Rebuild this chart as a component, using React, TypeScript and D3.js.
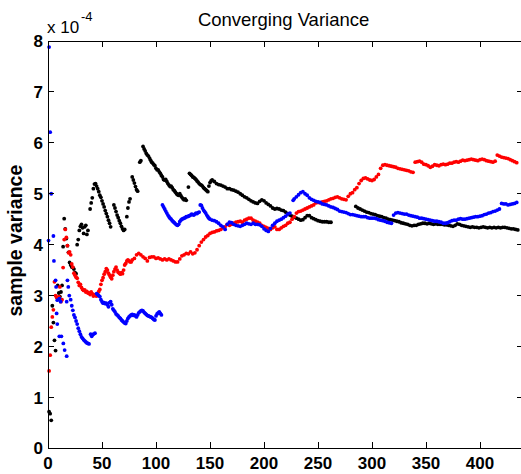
import React from "react";
import * as d3 from "d3";

// ---------- data (values in units of 1e-4) ----------
const blackX = [1, 2, 3, 4, 5, 6, 7, 9, 10, 11, 12, 13, 14, 15, 16, 17, 18, 19, 20, 21, 22, 23, 24, 25, 26,
  27, 28, 29, 30, 31, 32, 33, 34, 35, 36, 37,
  39, 40, 41, 42, 43, 44, 45, 46, 47, 48, 49, 50, 51, 52, 53, 54, 55, 56, 57, 58,
  61, 62, 63, 64, 65, 66, 67, 68, 69, 70, 71,
  73, 74, 75, 76, 78, 79, 80, 81, 82, 83, 85, 86,
  88, 89, 90, 91, 92, 93, 94, 95, 96, 97, 98, 99, 100, 101, 102, 103, 104, 105, 106, 107, 108, 109, 110,
  111, 112, 113, 114, 115, 116, 117, 118, 119, 120, 121, 122, 123, 124, 125, 126, 127, 128, 130,
  131, 132, 133, 134, 135, 136, 137, 138, 139, 140, 141, 142, 143, 144, 145, 146, 147, 148, 149, 150, 151, 152,
  154, 156, 158, 160, 162, 164, 166, 168, 170, 172, 174, 176, 178, 180, 182, 184, 186, 188, 190, 192, 194,
  196, 198, 200, 202, 204, 206, 208, 210, 212, 214, 216, 218, 220, 222, 224, 226, 228, 230, 232, 234, 236,
  238, 240, 242, 244, 246, 248, 250, 252, 254, 256, 258, 260, 262,
  285, 287, 289, 291, 293, 295, 297, 299, 301, 303, 305, 307, 309, 311, 313, 315, 317, 319, 321, 323, 325,
  327, 329, 331, 333, 335, 337, 339, 341, 343, 345, 347, 349, 351, 353, 355, 357, 359, 361, 363, 365, 367,
  369, 371, 373, 375, 377, 379, 381, 383, 385, 387, 389, 391, 393, 395, 397, 399, 401, 403, 405, 407, 409,
  411, 413, 415, 417, 419, 421, 423, 425, 427, 429, 431, 433, 435];
const blackY = [0.72, 0.68, 0.55, 2.8, 2.47, 2.12, 1.92, 3.2, 3.05, 2.98, 3.07, 3.2, 3.96, 4.51, 4.31, 4.12, 3.98, 3.85, 3.65, 3.6, 3.56, 3.55, 3.52, 3.45, 3.43,
  4.0, 4.1, 4.28, 4.36, 4.4, 4.33, 4.22, 4.35, 4.38, 4.2, 4.28,
  4.7, 4.82, 4.92, 5.1, 5.19, 5.2, 5.15, 5.1, 5.04, 4.97, 4.93, 4.86, 4.8, 4.74, 4.67, 4.61, 4.55, 4.48, 4.42, 4.35,
  4.78, 4.72, 4.65, 4.58, 4.53, 4.47, 4.42, 4.36, 4.31, 4.28, 4.3,
  4.55, 4.72, 4.84, 4.9, 5.33, 5.27, 5.21, 5.14, 5.08, 5.05, 5.62, 5.65,
  5.93, 5.88, 5.84, 5.79, 5.76, 5.74, 5.7, 5.66, 5.62, 5.6, 5.57, 5.55, 5.5, 5.47, 5.47, 5.43, 5.4, 5.36, 5.33, 5.28, 5.27, 5.28, 5.24,
  5.2, 5.17, 5.14, 5.15, 5.12, 5.08, 5.06, 5.03, 5.0, 4.98, 4.97, 5.0, 4.96, 4.93, 4.9, 4.88, 4.9, 4.87, 5.13,
  5.4, 5.38, 5.36, 5.33, 5.32, 5.3, 5.28, 5.25, 5.23, 5.2, 5.18, 5.17, 5.15, 5.12, 5.1, 5.08, 5.06, 5.04, 5.15, 5.22, 5.25, 5.27,
  5.24, 5.2, 5.18, 5.17, 5.15, 5.13, 5.1, 5.1, 5.08, 5.07, 5.05, 5.03, 5.0, 4.97, 4.94, 4.92, 4.89, 4.86, 4.84, 4.82, 4.81,
  4.85, 4.88, 4.86, 4.82, 4.79, 4.76, 4.72, 4.7, 4.71, 4.7, 4.68, 4.67, 4.64, 4.61, 4.58, 4.56, 4.54, 4.52, 4.5, 4.48, 4.49,
  4.53, 4.57, 4.57, 4.53, 4.51, 4.49, 4.47, 4.46, 4.45, 4.45, 4.45, 4.44, 4.44,
  4.75, 4.72, 4.7, 4.68, 4.66, 4.64, 4.63, 4.61, 4.6, 4.59, 4.57, 4.56, 4.55, 4.53, 4.52, 4.5, 4.49, 4.48, 4.47, 4.46, 4.45,
  4.43, 4.42, 4.41, 4.4, 4.38, 4.37, 4.38, 4.38, 4.4, 4.41, 4.42, 4.42, 4.41, 4.42, 4.41, 4.4, 4.41, 4.4, 4.4, 4.4, 4.39,
  4.39, 4.38, 4.37, 4.36, 4.38, 4.41, 4.4, 4.38, 4.37, 4.36, 4.35, 4.34, 4.35, 4.34, 4.34, 4.33, 4.34, 4.35, 4.34, 4.33, 4.34,
  4.33, 4.34, 4.33, 4.34, 4.33, 4.34, 4.34, 4.33, 4.32, 4.31, 4.31, 4.3, 4.29];

const redX = [1, 2, 3, 4, 5, 6, 7, 8, 9, 10, 11, 12, 13, 14, 15, 16, 17, 18, 19, 20, 21, 22, 23, 24, 25, 26, 27, 28, 29, 30,
  31, 32, 33, 34, 35, 36, 37, 38, 39, 40, 41, 42, 43, 44, 45, 46, 47, 48, 49, 50, 51, 52, 53, 54, 55, 56, 57, 58, 59, 60,
  61, 62, 63, 64, 65, 66, 67, 68, 69, 70, 71, 72, 73, 74, 75, 76, 77, 78, 80, 82, 84, 86, 88, 90, 92, 94, 96, 98, 100,
  102, 104, 106, 108, 110, 112, 114, 116, 118, 120, 122, 124, 126, 128, 130, 132, 134, 136, 138, 140, 142, 144, 146, 148, 150,
  152, 154, 156, 158, 160, 162, 164, 166, 168, 170, 172, 174, 176, 178, 180, 182, 184, 186, 188, 190, 192, 194, 196, 198, 200,
  202, 204, 206, 208, 210, 212, 214, 216, 218, 220, 222, 224, 226, 228, 230, 232, 234, 236, 238, 240, 242, 244, 246, 248, 250,
  252, 254, 256, 258, 260, 262, 264, 266, 268, 270, 272, 274, 276, 278, 280, 282, 284, 286, 288, 290, 292, 294, 296, 298, 300,
  302, 304, 306, 308, 310, 312, 314, 316, 318, 320, 322, 324, 326, 328, 330, 332, 334, 336, 338, 340, 342, 344, 346, 348, 350,
  352, 354, 356, 358, 360, 362, 364, 366, 368, 370, 372, 374, 376, 378, 380, 382, 384, 386, 388, 390, 392, 394, 396, 398, 400,
  402, 404, 406, 408, 410, 412, 414, 416, 418, 420, 422, 424, 426, 428, 430, 432, 434];
const redY = [1.52, 1.83, 2.38, 2.58, 2.72, 3.27, 3.0, 2.96, 2.94, 2.98, 3.17, 2.88, 2.92, 3.55, 4.1, 4.3, 4.14, 3.98, 3.84, 3.86, 3.8, 3.62, 3.56, 3.44, 3.4, 3.36, 3.34, 3.26, 3.2, 3.22,
  3.16, 3.12, 3.1, 3.11, 3.07, 3.08, 3.05, 3.05, 3.02, 3.07, 3.04, 2.99, 3.02, 3.0, 2.99, 3.03, 3.08, 3.12, 3.22, 3.3, 3.35, 3.42, 3.47, 3.53, 3.5, 3.44, 3.4, 3.36, 3.33, 3.4,
  3.47, 3.52, 3.56, 3.5, 3.46, 3.44, 3.42, 3.45, 3.43, 3.5, 3.6, 3.63, 3.68, 3.7, 3.68, 3.66, 3.66, 3.7, 3.73, 3.8, 3.83, 3.8, 3.76, 3.73, 3.68, 3.75, 3.76, 3.76, 3.73,
  3.74, 3.72, 3.7, 3.72, 3.7, 3.72, 3.7, 3.68, 3.66, 3.66, 3.72, 3.78, 3.8, 3.83, 3.82, 3.86, 3.82, 3.84, 3.9, 3.98, 4.05, 4.1, 4.15, 4.18, 4.22,
  4.24, 4.25, 4.27, 4.28, 4.3, 4.33, 4.35, 4.4, 4.38, 4.4, 4.42, 4.44, 4.45, 4.46, 4.44, 4.48, 4.5, 4.52, 4.52, 4.48, 4.46, 4.44, 4.42, 4.38, 4.36,
  4.34, 4.32, 4.3, 4.33, 4.35, 4.3, 4.3, 4.33, 4.36, 4.38, 4.42, 4.44, 4.5, 4.55, 4.62, 4.65, 4.66, 4.68, 4.7, 4.72, 4.74, 4.76, 4.78, 4.82, 4.83,
  4.82, 4.84, 4.85, 4.86, 4.88, 4.9, 4.91, 4.93, 4.94, 4.92, 4.9, 4.89, 4.88, 4.95, 5.0, 5.02, 5.08, 5.12, 5.2, 5.26, 5.3, 5.31, 5.29, 5.27, 5.26,
  5.28, 5.33, 5.38, 5.5, 5.56, 5.57, 5.56, 5.55, 5.54, 5.53, 5.52, 5.5, 5.49, 5.48, 5.47, 5.46, 5.45, 5.43, 5.42, 5.62, 5.63, 5.64, 5.62, 5.58, 5.57,
  5.55, 5.52, 5.54, 5.57, 5.56, 5.55, 5.57, 5.58, 5.57, 5.58, 5.6, 5.6, 5.62, 5.63, 5.62, 5.64, 5.66, 5.65, 5.66, 5.67, 5.68, 5.67, 5.66, 5.65, 5.67,
  5.68, 5.67, 5.65, 5.64, 5.63, 5.62, 5.64, 5.76, 5.74, 5.72, 5.71, 5.7, 5.69, 5.67, 5.65, 5.63, 5.61];

const blueX = [1, 2, 3, 0.5, 5, 5.5, 7, 7.5, 8.6, 10.5, 11.7, 8, 8.6, 10.5, 12.4, 14.2, 15.4, 17.3, 17.3, 18, 18.8, 19.7,
  21, 22, 23, 24, 25, 26, 27, 28, 29, 30, 31, 32, 33, 34, 35, 36, 37, 38, 39.5, 40.5, 42, 43.5,
  45, 46, 47, 48, 49, 50, 51, 52, 53, 54, 55, 56, 57, 58, 59, 60, 61, 62, 63, 64, 65, 66, 67, 68, 69, 70,
  71, 72, 73, 74, 75, 76, 77, 78, 79, 80, 81, 82, 83, 84, 85, 86, 87, 88, 89, 90, 91, 92, 93, 94, 95, 96,
  97, 98, 99, 100, 101, 102, 103, 104, 105,
  106, 107, 108, 109, 110, 111, 112, 113, 114, 115, 116, 117, 118, 119, 120, 121, 122, 123, 124, 125, 126,
  127, 128, 129, 130, 131, 132, 133, 134, 135, 136, 137, 138, 139, 140, 141, 142, 143, 144, 145, 146, 147,
  148, 149, 150, 152, 154, 156, 158, 160, 162, 164, 166, 168, 170, 172, 174, 176, 178, 180, 182, 184, 186,
  188, 190, 192, 194, 196, 198, 200, 202, 204, 206, 208, 210, 212, 214, 216, 218, 220, 222, 224,
  227, 228, 230, 232, 234, 236, 238, 240, 242, 244, 246, 248, 250, 252, 254, 256, 258, 260, 262, 264, 266,
  268, 270, 272, 274, 276, 278, 280, 282, 284, 286, 288, 290, 292, 294, 296, 298, 300, 302, 304, 306, 308,
  310, 312, 314, 316, 318, 320, 322, 324, 326, 328, 330, 332, 334, 336, 338, 340, 342, 344, 346, 348, 350,
  352, 354, 356, 358, 360, 362, 364, 366, 368, 370, 372, 374, 376, 378, 380, 382, 384, 386, 388, 390, 392,
  394, 396, 398, 400, 402, 404, 406, 408, 410, 412, 414, 416, 418, 420, 422, 424, 426, 428, 430, 432, 434];
const blueY = [7.88, 6.21, 5.0, 4.08, 4.17, 3.68, 3.3, 3.17, 2.91, 2.94, 2.88, 2.65, 2.44, 2.2, 2.2, 2.06, 1.93, 1.81, 2.88, 3.3, 3.17, 3.0,
  2.92, 2.8, 2.71, 2.62, 2.57, 2.5, 2.44, 2.36, 2.3, 2.24, 2.19, 2.16, 2.13, 2.11, 2.09, 2.07, 2.06, 2.05, 2.24, 2.2, 2.24, 2.26,
  3.04, 3.02, 3.0, 2.98, 2.92, 2.88, 2.85, 2.86, 2.84, 2.85, 2.82, 2.78, 2.86, 2.88, 2.82, 2.74, 2.71, 2.68, 2.64, 2.62, 2.6, 2.57, 2.55, 2.52, 2.5, 2.48,
  2.46, 2.45, 2.5, 2.55, 2.58, 2.6, 2.62, 2.63, 2.61, 2.62, 2.6, 2.58, 2.62, 2.66, 2.68, 2.7, 2.71, 2.7, 2.67, 2.65, 2.63, 2.61, 2.6, 2.59, 2.58, 2.57,
  2.55, 2.53, 2.52, 2.6, 2.64, 2.66, 2.68, 2.65, 2.62,
  4.78, 4.74, 4.7, 4.66, 4.62, 4.58, 4.55, 4.52, 4.5, 4.47, 4.45, 4.43, 4.41, 4.39, 4.38, 4.4, 4.45, 4.48, 4.5, 4.51, 4.52,
  4.53, 4.55, 4.55, 4.56, 4.57, 4.58, 4.6, 4.59, 4.58, 4.6, 4.62, 4.61, 4.63, 4.64, 4.78, 4.77, 4.72, 4.68, 4.65, 4.62, 4.58,
  4.55, 4.52, 4.5, 4.48, 4.47, 4.45, 4.42, 4.38, 4.35, 4.3, 4.4, 4.44, 4.43, 4.4, 4.38, 4.37, 4.36, 4.38, 4.4, 4.42, 4.41,
  4.4, 4.42, 4.4, 4.4, 4.39, 4.36, 4.31, 4.28, 4.26, 4.32, 4.38, 4.42, 4.46, 4.48, 4.5, 4.53, 4.56, 4.6, 4.62,
  4.87, 4.9, 4.94, 4.98, 5.02, 5.04, 5.0, 4.97, 4.92, 4.89, 4.87, 4.85, 4.84, 4.83, 4.8, 4.79, 4.78, 4.76, 4.74, 4.73, 4.71,
  4.69, 4.66, 4.65, 4.64, 4.63, 4.61, 4.59, 4.59, 4.58, 4.57, 4.56, 4.55, 4.55, 4.55, 4.53, 4.52, 4.52, 4.52, 4.51, 4.49, 4.48,
  4.47, 4.46, 4.44, 4.43, 4.42, 4.58, 4.62, 4.63, 4.62, 4.61, 4.6, 4.6, 4.58, 4.57, 4.56, 4.55, 4.54, 4.52, 4.52, 4.51, 4.5,
  4.49, 4.48, 4.47, 4.46, 4.46, 4.45, 4.44, 4.42, 4.42, 4.43, 4.45, 4.47, 4.48, 4.48, 4.5, 4.51, 4.5, 4.5, 4.51, 4.52, 4.53,
  4.54, 4.55, 4.55, 4.56, 4.57, 4.59, 4.6, 4.62, 4.63, 4.65, 4.66, 4.68, 4.7, 4.81, 4.8, 4.8, 4.78, 4.79, 4.8, 4.81, 4.83];

const xTicks = [0, 50, 100, 150, 200, 250, 300, 350, 400];
const yTicks = [0, 1, 2, 3, 4, 5, 6, 7, 8];
const titleText = "Converging Variance";
const yLabelText = "sample variance";

// ---------- layout ----------
const W = 521;
const H = 474;
const left = 48;
const right = 523.2;
const top = 41;
const bottom = 448.3;
const FONT = "'Liberation Sans', Arial, Helvetica, sans-serif";

export default function App() {
  const x = d3.scaleLinear().domain([0, 440]).range([left, right]);
  const y = d3.scaleLinear().domain([0, 8]).range([bottom, top]);

  const series = [
    { xs: blackX, ys: blackY, color: "#000000" },
    { xs: redX, ys: redY, color: "#ff0000" },
    { xs: blueX, ys: blueY, color: "#0000ff" },
  ];

  const tickLen = 6;

  return (
    <div style={{ position: "absolute", left: 0, top: 0 }}>
      <svg width={W} height={H} style={{ display: "block", background: "#fff" }}>
        <rect x={0} y={0} width={W} height={H} fill="#fff" />
        <defs>
          <clipPath id="plotClip">
            <rect x={left - 3} y={top - 3} width={right - left + 6} height={bottom - top + 6} />
          </clipPath>
        </defs>
        {/* data */}
        <g clipPath="url(#plotClip)">
          {series.map((s, si) => (
            <g key={si} fill={s.color}>
              {s.xs.map((xv, i) => (
                <circle key={i} cx={x(xv)} cy={y(s.ys[i])} r={1.9} />
              ))}
            </g>
          ))}
        </g>
        {/* box */}
        <g stroke="#000" strokeWidth={1} fill="none" shapeRendering="crispEdges">
          <line x1={left} x2={left} y1={top} y2={bottom} />
          <line x1={left} x2={right} y1={bottom} y2={bottom} />
          <line x1={left} x2={right} y1={top} y2={top} />
          <line x1={right} x2={right} y1={top} y2={bottom} />
          {xTicks.map((t) => (
            <g key={"xt" + t}>
              <line x1={x(t)} x2={x(t)} y1={bottom} y2={bottom - tickLen} />
              <line x1={x(t)} x2={x(t)} y1={top} y2={top + tickLen} />
            </g>
          ))}
          {yTicks.map((t) => (
            <g key={"yt" + t}>
              <line x1={left} x2={left + tickLen} y1={y(t)} y2={y(t)} />
              <line x1={right} x2={right - tickLen} y1={y(t)} y2={y(t)} />
            </g>
          ))}
        </g>
        {/* tick labels */}
        <g fontFamily={FONT} fontSize={17} fontWeight="bold" fill="#000">
          {xTicks.map((t) => (
            <text key={"xl" + t} x={x(t)} y={469} textAnchor="middle">
              {t}
            </text>
          ))}
          {yTicks.map((t) => (
            <text key={"yl" + t} x={43} y={y(t)} dy="0.36em" textAnchor="end">
              {t}
            </text>
          ))}
        </g>
        {/* exponent */}
        <g fontFamily={FONT} fill="#000">
          <text x={47} y={33} fontSize={17}>x 10</text>
          <text x={81} y={21} fontSize={13}>-4</text>
        </g>
        {/* title */}
        <text x={(left + right) / 2 - 2} y={26} textAnchor="middle" fontFamily={FONT} fontSize={18.5} fill="#000">
          {titleText}
        </text>
        {/* y label */}
        <text
          transform={`translate(22, ${(top + bottom) / 2 - 4}) rotate(-90)`}
          textAnchor="middle"
          fontFamily={FONT}
          fontSize={19.5}
          fontWeight="bold"
          fill="#000"
        >
          {yLabelText}
        </text>
      </svg>
    </div>
  );
}
